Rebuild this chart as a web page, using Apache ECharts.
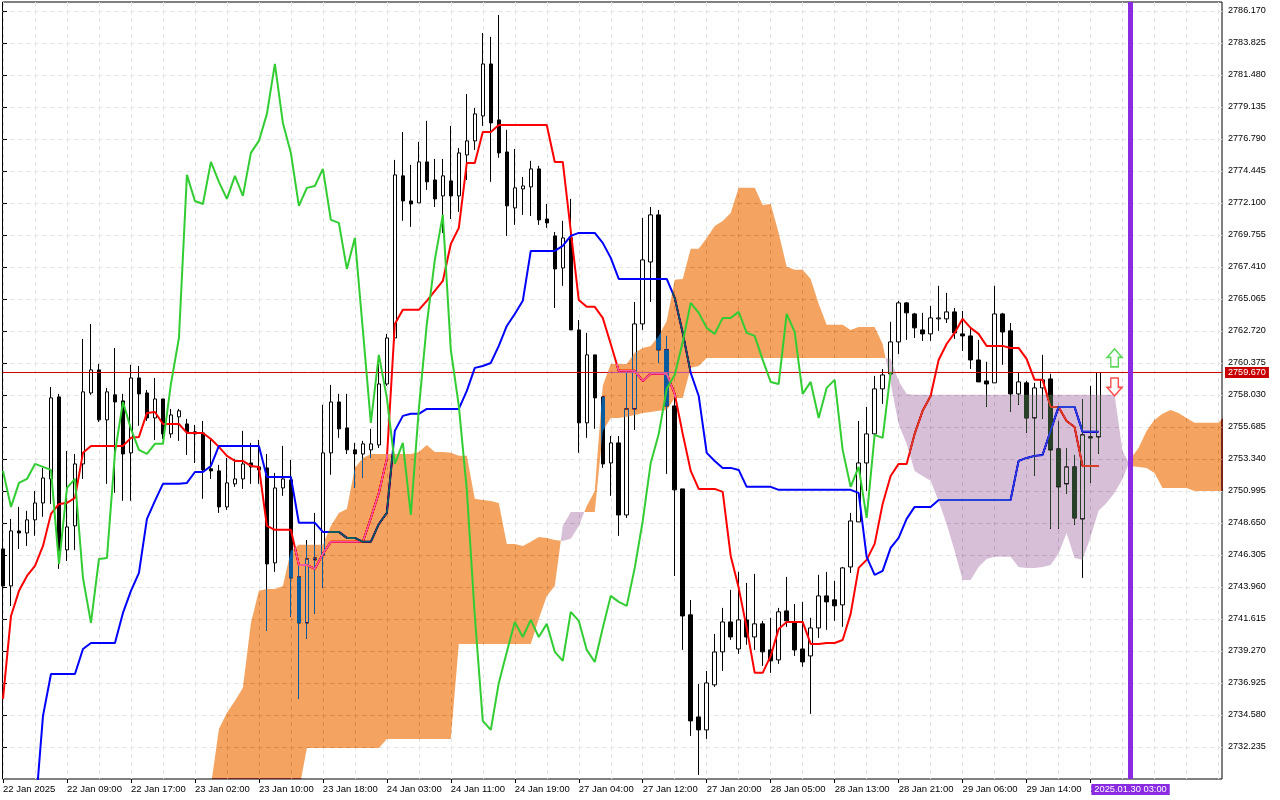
<!DOCTYPE html>
<html><head><meta charset="utf-8">
<style>html,body{margin:0;padding:0;background:#fff}#c{width:1280px;height:800px}</style>
<script src="https://cdn.jsdelivr.net/npm/echarts@6/dist/echarts.min.js"></script>
</head><body><div id="c"></div>
<script>
const xLabels = ['22 Jan 2025','22 Jan 09:00','22 Jan 17:00','23 Jan 02:00','23 Jan 10:00','23 Jan 18:00','24 Jan 03:00','24 Jan 11:00','24 Jan 19:00','27 Jan 04:00','27 Jan 12:00','27 Jan 20:00','28 Jan 05:00','28 Jan 13:00','28 Jan 21:00','29 Jan 06:00','29 Jan 14:00','29 Jan 22:00'];
const yTicks = [2786.170,2783.825,2781.480,2779.135,2776.790,2774.445,2772.100,2769.755,2767.410,2765.065,2762.720,2760.375,2758.030,2755.685,2753.340,2750.995,2748.650,2746.305,2743.960,2741.615,2739.270,2736.925,2734.580,2732.235];
const opens = [2746.74,2744.03,2748.06,2747.91,2748.87,2750.11,2751.87,2757.88,2746.67,2748.43,
2752.97,2758.17,2759.86,2756.20,2758.03,2757.59,2753.78,2759.27,2758.17,2756.34,
2757.73,2755.17,2756.42,2755.90,2755.32,2755.24,2752.61,2752.46,2749.82,2751.51,
2751.87,2753.04,2752.75,2752.68,2745.72,2751.21,2751.80,2744.69,2741.32,2745.94,
2746.30,2753.78,2757.51,2755.61,2754.00,2753.70,2754.00,2754.36,2758.83,2762.20,
2774.08,2772.24,2772.10,2775.10,2773.78,2772.61,2773.71,2772.61,2775.61,2776.64,
2778.47,2782.28,2778.18,2775.83,2771.73,2773.12,2773.27,2774.59,2770.92,2769.68,
2767.33,2769.53,2762.79,2755.98,2760.96,2757.88,2753.04,2754.51,2749.23,2757.00,
2763.23,2767.77,2771.22,2761.33,2757.22,2751.14,2741.91,2734.43,2733.48,2736.78,
2739.20,2741.39,2739.41,2741.54,2740.29,2741.25,2739.34,2738.61,2742.20,2741.32,
2739.41,2738.90,2740.95,2743.30,2743.01,2742.64,2745.42,2748.72,2753.04,2755.17,
2758.47,2759.57,2761.91,2764.77,2763.96,2762.79,2762.50,2763.60,2763.60,2764.11,
2762.50,2762.35,2760.59,2759.05,2758.91,2763.96,2762.72,2758.10,2758.91,2756.34,
2758.54,2759.20,2754.07,2751.51,2752.75,2748.94,2754.95,2754.95];
const closes = [2744.03,2748.06,2747.91,2748.87,2750.11,2751.94,2757.81,2746.60,2748.35,2752.97,
2758.25,2759.86,2756.20,2758.25,2757.51,2753.70,2759.27,2758.10,2756.34,2757.73,
2755.17,2756.56,2756.86,2755.32,2755.17,2752.53,2752.46,2749.82,2751.58,2751.87,
2752.97,2752.75,2752.53,2745.64,2751.21,2751.87,2744.62,2741.32,2746.01,2746.08,
2753.78,2757.51,2755.54,2754.00,2753.70,2754.44,2754.44,2758.83,2762.20,2774.15,
2772.24,2772.02,2775.10,2773.64,2772.39,2774.08,2772.61,2775.76,2776.64,2778.62,
2782.28,2777.96,2775.76,2771.88,2773.20,2773.34,2774.59,2770.85,2770.63,2767.26,
2769.53,2762.79,2755.98,2760.96,2757.81,2752.97,2754.51,2749.23,2757.00,2763.23,
2767.92,2771.22,2761.33,2757.22,2751.07,2741.83,2734.14,2733.48,2736.92,2739.19,
2741.39,2740.29,2741.54,2740.29,2741.25,2739.20,2738.54,2742.13,2741.47,2739.34,
2738.46,2740.95,2743.30,2742.86,2742.57,2745.35,2748.79,2753.04,2755.17,2758.47,
2759.49,2761.91,2764.77,2764.04,2762.94,2762.50,2763.67,2763.67,2764.11,2762.57,
2762.35,2760.59,2758.98,2758.83,2763.96,2762.64,2758.10,2758.98,2756.34,2758.54,
2759.13,2754.00,2751.29,2752.75,2749.01,2755.10,2754.88,2759.67];
const highs = [2747.33,2748.94,2749.82,2749.53,2750.99,2752.68,2758.61,2758.10,2753.92,2753.70,
2762.13,2763.23,2760.30,2758.54,2761.47,2758.10,2760.23,2760.15,2758.39,2759.27,
2757.73,2757.00,2757.00,2756.27,2755.83,2756.12,2754.80,2752.90,2753.41,2753.34,
2755.39,2754.51,2754.73,2753.70,2752.31,2754.29,2753.26,2745.50,2747.40,2749.38,
2757.30,2758.76,2758.10,2758.10,2754.51,2754.66,2755.54,2760.30,2762.50,2775.25,
2777.30,2774.88,2776.57,2778.11,2775.32,2775.32,2777.74,2776.13,2780.08,2779.06,
2784.55,2784.26,2785.87,2777.45,2776.05,2774.00,2775.18,2774.81,2772.02,2769.97,
2770.78,2772.39,2763.52,2762.57,2760.96,2757.88,2755.02,2755.02,2759.79,2764.84,
2771.00,2771.80,2771.58,2762.35,2757.81,2751.14,2743.00,2736.85,2737.80,2740.51,
2742.42,2743.74,2745.06,2744.25,2744.91,2741.47,2741.69,2742.42,2744.69,2742.71,
2742.86,2741.69,2744.84,2745.06,2744.40,2745.42,2749.38,2756.12,2757.15,2759.42,
2759.93,2763.38,2764.92,2764.84,2764.04,2764.04,2764.55,2766.02,2765.50,2764.40,
2764.18,2762.94,2762.06,2760.45,2766.02,2764.04,2763.30,2759.71,2759.05,2758.91,
2760.96,2759.57,2756.12,2754.14,2753.63,2757.73,2758.69,2759.67];
const lows = [2742.56,2742.56,2746.74,2746.96,2747.70,2749.09,2750.04,2745.28,2745.86,2746.67,
2751.87,2758.03,2756.05,2751.51,2750.85,2750.26,2750.26,2755.76,2756.12,2754.73,
2754.80,2754.88,2754.66,2753.63,2753.04,2750.41,2751.87,2749.38,2749.60,2751.29,
2751.14,2751.51,2751.51,2740.73,2745.06,2750.63,2741.76,2735.75,2740.15,2741.98,
2743.89,2752.17,2754.88,2753.70,2751.21,2751.94,2753.41,2754.14,2758.69,2761.98,
2770.78,2770.34,2772.10,2773.05,2771.80,2769.90,2770.92,2771.44,2773.78,2775.98,
2777.74,2773.64,2775.40,2769.68,2770.49,2771.22,2771.14,2770.49,2770.27,2764.40,
2766.02,2762.79,2753.78,2754.88,2755.54,2752.68,2750.63,2747.70,2749.01,2755.46,
2762.79,2764.84,2760.37,2752.24,2744.76,2739.34,2733.04,2730.18,2732.82,2736.63,
2737.80,2740.07,2739.05,2739.71,2739.34,2738.17,2737.66,2738.32,2741.03,2738.90,
2738.10,2734.65,2740.22,2740.81,2741.47,2741.03,2744.98,2748.72,2750.99,2755.02,
2757.37,2759.49,2761.03,2762.06,2762.20,2761.98,2761.98,2762.72,2763.30,2762.13,
2761.25,2759.93,2758.98,2757.15,2758.91,2760.23,2756.78,2757.30,2755.24,2752.09,
2756.27,2748.21,2748.21,2750.77,2748.50,2744.62,2751.58,2753.70];
const tenkan = [2735.75,2741.83,2743.67,2744.76,2745.50,2746.96,2749.31,2750.04,2750.11,2750.48,
2753.78,2754.29,2754.29,2754.29,2754.29,2754.29,2754.88,2754.95,2756.71,2756.78,
2755.90,2755.90,2755.90,2755.24,2755.24,2755.24,2754.80,2754.22,2753.56,2753.19,
2753.19,2752.82,2752.75,2748.43,2748.14,2748.14,2748.14,2745.57,2745.57,2745.28,
2746.38,2747.26,2747.26,2747.26,2747.26,2747.26,2749.01,2750.85,2753.34,2763.23,
2764.26,2764.26,2764.26,2764.92,2765.65,2766.38,2769.09,2770.27,2775.03,2775.03,
2777.30,2777.30,2777.81,2777.81,2777.81,2777.81,2777.81,2777.81,2777.81,2775.10,
2775.10,2770.05,2764.99,2764.48,2764.48,2763.67,2761.76,2759.79,2759.79,2759.79,
2759.05,2759.57,2759.57,2759.57,2758.10,2755.17,2752.46,2751.14,2751.14,2751.14,
2750.92,2746.23,2743.89,2740.95,2737.66,2737.66,2738.90,2740.88,2741.39,2741.39,
2741.39,2739.78,2739.78,2739.85,2739.85,2740.07,2741.98,2745.35,2745.94,2747.11,
2750.04,2752.09,2752.97,2752.97,2755.17,2756.86,2757.95,2760.59,2761.76,2762.57,
2763.60,2762.94,2762.50,2761.62,2761.62,2761.62,2761.47,2761.47,2760.67,2759.13,
2759.13,2757.15,2757.15,2756.12,2755.68,2752.82,2752.82,2752.82];
const kijun = [null,null,null,null,2727.18,2734.51,2737.58,2737.58,2737.58,2737.58,
2739.41,2739.85,2739.85,2739.85,2739.85,2742.05,2743.67,2744.98,2748.94,2750.26,
2751.51,2751.51,2751.51,2751.58,2752.38,2752.38,2752.82,2754.29,2754.29,2754.29,
2754.29,2754.29,2754.29,2752.02,2752.02,2752.02,2752.02,2748.65,2748.65,2748.65,
2747.99,2747.99,2747.99,2747.55,2747.55,2747.26,2747.26,2748.57,2749.38,2755.39,
2756.49,2756.64,2756.64,2757.00,2757.00,2757.00,2757.00,2757.00,2758.32,2760.01,
2760.15,2760.37,2761.62,2763.08,2763.96,2764.92,2768.58,2768.58,2768.58,2768.58,
2768.95,2769.68,2769.90,2769.90,2769.90,2769.17,2768.07,2766.53,2766.53,2766.53,
2766.53,2766.53,2766.53,2766.53,2765.14,2762.57,2759.64,2757.95,2753.78,2753.19,
2752.68,2752.68,2752.53,2751.29,2751.29,2751.29,2751.29,2751.07,2751.07,2751.07,
2751.07,2751.07,2751.07,2751.07,2751.07,2751.07,2751.07,2750.85,2746.16,2744.84,
2745.13,2746.82,2747.55,2748.94,2749.82,2749.82,2749.82,2750.33,2750.33,2750.33,
2750.33,2750.33,2750.33,2750.33,2750.33,2750.33,2750.33,2753.19,2753.41,2753.56,
2753.63,2755.39,2757.15,2757.15,2757.15,2755.32,2755.32,2755.32];
const chikou = [2752.46,2749.82,2751.58,2751.87,2752.97,2752.75,2752.53,2745.64,2751.21,2751.87,
2744.62,2741.32,2746.01,2746.08,2753.78,2757.51,2755.54,2754.00,2753.70,2754.44,
2754.44,2758.83,2762.20,2774.15,2772.24,2772.02,2775.10,2773.64,2772.39,2774.08,
2772.61,2775.76,2776.64,2778.62,2782.28,2777.96,2775.76,2771.88,2773.20,2773.34,
2774.59,2770.85,2770.63,2767.26,2769.53,2762.79,2755.98,2760.96,2757.81,2752.97,
2754.51,2749.23,2757.00,2763.23,2767.92,2771.22,2761.33,2757.22,2751.07,2741.83,
2734.14,2733.48,2736.92,2739.19,2741.39,2740.29,2741.54,2740.29,2741.25,2739.20,
2738.54,2742.13,2741.47,2739.34,2738.46,2740.95,2743.30,2742.86,2742.57,2745.35,
2748.79,2753.04,2755.17,2758.47,2759.49,2761.91,2764.77,2764.04,2762.94,2762.50,
2763.67,2763.67,2764.11,2762.57,2762.35,2760.59,2758.98,2758.83,2763.96,2762.64,
2758.10,2758.98,2756.34,2758.54,2759.13,2754.00,2751.29,2752.75,2749.01,2755.10,
2754.88,2759.67];
const cloudFirstBar = 26;
const spanA = [2729.38,2733.55,2734.73,2735.60,2736.56,2741.32,2743.67,2743.81,2743.81,2744.03,
2746.60,2747.04,2747.04,2747.04,2747.04,2748.43,2749.38,2749.67,2752.68,2753.41,
2753.70,2753.70,2753.70,2753.70,2753.70,2753.70,2753.85,2754.36,2753.85,2753.85,
2753.78,2753.56,2753.56,2750.41,2750.33,2750.26,2750.11,2747.11,2747.11,2746.96,
2747.26,2747.62,2747.55,2747.40,2747.33,2747.48,2748.43,2749.89,2750.99,2758.69,
2760.30,2760.30,2760.30,2761.11,2761.47,2761.62,2762.35,2763.45,2766.46,2766.53,
2768.73,2768.73,2769.53,2770.41,2770.78,2771.36,2773.20,2773.20,2773.20,2771.95,
2772.02,2769.90,2767.41,2767.19,2767.19,2766.53,2764.70,2763.16,2763.16,2763.16,
2762.79,2763.01,2763.01,2763.01,2761.76,2758.91,2755.90,2754.44,2752.46,2752.09,
2751.73,2750.26,2748.57,2746.60,2744.47,2744.47,2745.42,2746.01,2746.16,2746.16,
2746.16,2745.42,2745.35,2745.35,2745.42,2745.57,2746.38,2747.91,2746.08,2745.94,
2747.62,2749.53,2750.11,2750.85,2751.87,2753.34,2754.14,2755.39,2756.20,2756.64,
2756.93,2756.71,2756.34,2755.98,2755.98,2755.98,2755.98,2756.64];
const spanB = [2728.28,2728.28,2728.28,2728.28,2728.28,2728.28,2728.28,2728.28,2728.28,2728.28,
2728.28,2729.01,2732.16,2732.16,2732.16,2732.16,2732.16,2732.16,2732.16,2732.16,
2732.16,2732.16,2732.82,2732.82,2732.82,2732.82,2732.82,2732.82,2732.82,2732.82,
2732.82,2739.78,2739.78,2739.78,2739.78,2739.78,2739.78,2739.78,2739.78,2739.78,
2739.78,2741.61,2743.30,2744.03,2748.43,2749.45,2749.45,2749.45,2749.45,2755.39,
2756.34,2756.34,2756.42,2756.56,2756.71,2756.78,2756.86,2756.93,2757.81,2757.81,
2760.01,2760.15,2760.74,2760.74,2760.74,2760.74,2760.74,2760.74,2760.74,2760.74,
2760.74,2760.74,2760.74,2760.74,2760.74,2760.74,2760.74,2760.74,2760.74,2760.74,
2760.74,2760.74,2760.74,2760.74,2760.74,2760.67,2759.05,2758.10,2758.03,2758.03,
2758.03,2758.03,2758.03,2758.03,2758.03,2758.03,2758.03,2758.03,2758.03,2758.03,
2758.03,2758.03,2758.03,2758.03,2758.03,2758.03,2758.03,2758.03,2758.03,2758.03,
2758.03,2758.03,2758.03,2758.03,2753.92,2752.82,2752.75,2752.68,2752.31,2751.21,
2751.21,2751.21,2751.21,2750.99,2750.99,2750.99,2750.99,2750.99];
const lastPrice = 2759.67;
const futureBar = 141;
const futureLabel = '2025.01.30 03:00';
const arrowBar = 139;
const arrowUpPrice = 2760.74;
const arrowDownPrice = 2758.61;

const yMin = 2729.881, yMax = 2786.82, xMin = -0.0625, xMax = 152.4375;
const FONT = 'Liberation Sans';
const labelTicks = xLabels.map((_, i) => i * 8);
const gridTicks = []; for (let v = 0; v <= 152; v += 4) gridTicks.push(v);
const gridLine = {show: true, lineStyle: {color: '#e3e3e3', width: 1, type: [4, 4]}};

const regions = [];
(function () {
  let cur = null;
  for (let k = 0; k < spanA.length; k++) {
    const d = spanA[k] - spanB[k], s = d >= 0 ? 1 : -1;
    if (cur && s !== cur.s) {
      const d0 = spanA[k - 1] - spanB[k - 1], t = d0 / (d0 - d);
      const p = [cloudFirstBar + k - 1 + t, spanA[k - 1] + t * (spanA[k] - spanA[k - 1])];
      cur.a.push(p); cur.b.push(p); regions.push(cur);
      cur = {s, a: [p], b: [p]};
    }
    if (!cur) cur = {s, a: [], b: []};
    cur.a.push([cloudFirstBar + k, spanA[k]]);
    cur.b.push([cloudFirstBar + k, spanB[k]]);
  }
  regions.push(cur);
  regions.forEach(r => r.points = r.a.concat(r.b.slice().reverse()));
})();
const pair = arr => arr.map((v, i) => [i, v]);
const arrowPath = 'path://M8 0 L16 9 L12 9 L12 19 L4 19 L4 9 L0 9 Z';
const arrowDown = 'path://M4 0 L12 0 L12 10 L16 10 L8 19 L0 10 L4 10 Z';

const chart = echarts.init(document.getElementById('c'), null, {renderer: 'canvas'});
chart.setOption({
  animation: false,
  backgroundColor: '#ffffff',
  textStyle: {fontFamily: FONT},
  grid: {left: 2, top: 2, width: 1220, height: 777, show: true, borderColor: '#000', borderWidth: 1, backgroundColor: 'transparent', containLabel: false},
  xAxis: [{
    type: 'value', min: xMin, max: xMax, position: 'bottom',
    axisLine: {show: false},
    axisTick: {show: true, length: 4, customValues: labelTicks, lineStyle: {color: '#000'}},
    axisLabel: {show: true, customValues: labelTicks, align: 'left', margin: 5, color: '#000', fontSize: 9.5, fontFamily: FONT, hideOverlap: false, showMinLabel: true, showMaxLabel: true,
      formatter: v => xLabels[Math.round(v / 8)] || ''},
    splitLine: {show: false}
  }, {
    type: 'value', min: xMin, max: xMax, position: 'top',
    axisLine: {show: false},
    axisTick: {show: false, customValues: gridTicks},
    axisLabel: {show: false},
    splitLine: gridLine
  }],
  yAxis: [{
    type: 'value', min: yMin, max: yMax, position: 'right',
    axisLine: {show: false},
    axisTick: {show: true, length: 4, customValues: yTicks, lineStyle: {color: '#000'}},
    axisLabel: {show: true, customValues: yTicks, margin: 6, color: '#000', fontSize: 9.1, fontFamily: FONT, hideOverlap: false, formatter: v => v.toFixed(3)},
    splitLine: gridLine
  }],
  series: [
    {
      type: 'candlestick', name: 'price', z: 1, barWidth: 4, clip: true, silent: true,
      data: opens.map((o, i) => [i, o, closes[i], lows[i], highs[i]]),
      itemStyle: {color: '#ffffff', color0: '#000000', borderColor: '#000000', borderColor0: '#000000', borderColorDoji: '#000000', borderWidth: 1}
    },
    {type: 'line', name: 'tenkan', z: 2, data: pair(tenkan), symbol: 'none', silent: true, clip: true, connectNulls: false, lineStyle: {color: '#ff0000', width: 2}},
    {
      type: 'line', name: 'lastPrice', z: 3, silent: true, symbol: 'none', clip: true,
      data: [[xMin, lastPrice], [xMax, lastPrice]],
      lineStyle: {color: '#cc0000', width: 1, type: 'solid'},
      endLabel: {show: true, align: 'left', verticalAlign: 'middle', distance: 3, color: '#fff', backgroundColor: '#c80000', padding: [1, 3, 1, 3], fontSize: 9.1, fontFamily: FONT, formatter: () => lastPrice.toFixed(3)}
    },
    {type: 'line', name: 'kijun', z: 3, data: pair(kijun), symbol: 'none', silent: true, clip: true, connectNulls: false, lineStyle: {color: '#0000ff', width: 2}},
    {
      type: 'custom', name: 'cloud', z: 4, silent: true, clip: true, blendMode: 'difference',
      coordinateSystem: 'cartesian2d',
      encode: {x: 0, y: 1},
      data: regions.map(r => [r.points[0][0], r.points[0][1]]),
      renderItem: function (params, api) {
        const r = regions[params.dataIndex];
        return {
          type: 'polygon',
          shape: {points: r.points.map(p => api.coord(p))},
          style: {fill: r.s > 0 ? '#0B5B9F' : '#274027', stroke: null}
        };
      }
    },
    {
      type: 'line', name: 'chikou', z: 5, data: pair(chikou), symbol: 'none', silent: true, clip: true, lineStyle: {color: '#32cd32', width: 2},
      markLine: {
        z: 6, silent: true, symbol: 'none', animation: false,
        lineStyle: {color: '#8a2be2', width: 5, type: 'solid'},
        label: {show: true, position: 'start', align: 'center', distance: 5, color: '#fff', backgroundColor: '#8a2be2', padding: [1, 3, 1, 3], fontSize: 9.3, fontFamily: FONT, formatter: () => futureLabel},
        data: [{xAxis: futureBar}]
      }
    },
    {
      type: 'scatter', name: 'arrows', z: 7, silent: true,
      data: [
        {value: [arrowBar, arrowUpPrice], symbol: arrowPath, itemStyle: {color: '#ffffff', borderColor: '#32cd32', borderWidth: 1.5}},
        {value: [arrowBar, arrowDownPrice], symbol: arrowDown, itemStyle: {color: '#ffffff', borderColor: '#ff2020', borderWidth: 1.5}}
      ],
      symbolSize: [15, 18]
    }
  ]
});
</script></body></html>
